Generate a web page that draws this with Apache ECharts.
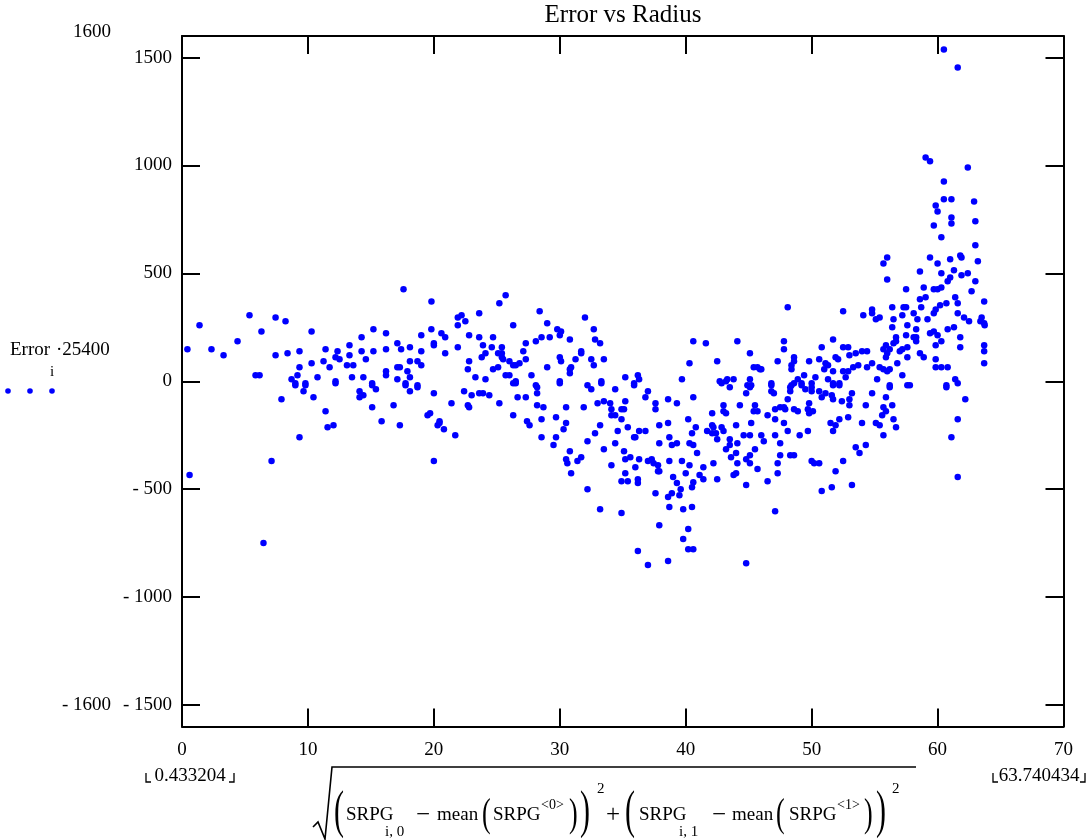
<!DOCTYPE html>
<html>
<head>
<meta charset="utf-8">
<script src="https://cdn.jsdelivr.net/npm/echarts@6/dist/echarts.min.js"></script>
<style>
  html, body { margin: 0; padding: 0; background: #ffffff; }
  #chart { width: 1089px; height: 840px; }
</style>
</head>
<body>
<div id="chart"></div>
<script>
// Axis settings and labels
const chartTitle = 'Error vs Radius';
const xRange = [0, 70];
const xTicks = [0, 10, 20, 30, 40, 50, 60, 70];
const yRange = [-1600, 1600];
const yTicks = [-1500, -1000, -500, 0, 500, 1000, 1500];
const xDataLimits = ['0.433204', '63.740434'];

// Scatter points: [radius, Error_i * 25400], grouped by radius span
const r00to13 = [
  [0.43,148],[1.39,259],[2.34,148],[3.30,120],[4.41,185],[5.36,306],[6.31,231],[5.84,28],[6.16,28],
  [7.43,296],[8.22,278],[7.43,120],[8.38,130],[9.33,139],[10.29,231],[11.4,148],[12.35,139],[12.19,111],
  [12.51,102],[11.24,93],[10.29,83],[9.33,65],[11.72,65],[9.17,28],[8.70,9],[9.0,-9],[9.0,-19],[9.8,-9],
  [9.8,-19],[9.65,-46],[10.76,19],[12.19,0],[12.19,-9],[7.9,-83],[10.44,-74],[11.4,-139],[11.56,-213],
  [12.03,-204],[9.33,-259],[7.11,-370],[0.6,-435],[6.47,-750]
];
const r13to26 = [
  [17.59,426],[19.81,370],[25.7,398],[25.2,361],[23.6,315],[21.9,296],[22.2,306],[22.5,278],[21.9,259],
  [26.3,259],[15.2,241],[16.2,222],[19.8,241],[20.6,222],[20.9,204],[22.8,213],[23.6,204],[24.7,204],
  [14.26,204],[13.3,167],[17.1,176],[19.0,213],[20.0,176],[20.0,167],[21.9,157],[23.9,167],[24.6,157],
  [25.4,157],[17.4,148],[18.1,157],[16.2,148],[15.2,139],[14.26,139],[13.3,120],[19.0,139],[20.9,130],
  [24.1,130],[25.1,130],[25.4,130],[23.8,111],[25.4,111],[25.5,102],[26.0,93],[14.6,102],[18.1,93],
  [18.7,93],[22.8,93],[13.1,74],[13.6,74],[19.0,74],[17.1,65],[17.3,65],[17.9,46],[16.2,46],[16.2,28],
  [22.7,56],[24.7,56],[25.1,65],[26.3,74],[13.5,19],[14.4,19],[17.1,9],[18.1,19],[23.3,19],[24.1,9],
  [25.7,28],[26.0,28],[15.1,-9],[15.1,-19],[15.4,-37],[14.1,-46],[14.1,-74],[14.4,-65],[17.75,-9],
  [17.75,-19],[18.7,-19],[18.7,-28],[18.1,-46],[20.0,-56],[22.4,-46],[23.0,-65],[23.6,-56],[23.9,-56],
  [24.4,-65],[26.3,-9],[15.1,-120],[16.8,-111],[21.4,-102],[22.7,-111],[22.8,-120],[25.2,-102],
  [26.3,-157],[15.85,-185],[17.3,-204],[19.5,-157],[19.7,-148],[20.45,-185],[20.45,-194],[20.3,-204],
  [20.8,-222],[21.7,-250],[20.0,-370]
];
const r26to39 = [
  [28.4,324],[32.0,296],[29.0,269],[29.8,241],[30.1,231],[32.7,241],[30.0,213],[28.55,204],[29.2,204],
  [28.1,185],[30.8,194],[32.8,194],[33.2,176],[27.3,176],[27.1,139],[31.7,139],[31.7,130],[30.0,111],
  [30.1,93],[27.3,102],[31.25,102],[32.5,102],[33.5,102],[26.5,74],[26.8,83],[29.0,65],[30.9,65],
  [30.8,56],[30.8,37],[32.7,74],[27.75,28],[26.5,0],[26.5,-9],[28.1,-19],[28.2,-28],[28.2,-56],[30.0,0],
  [30.0,-9],[32.2,-19],[32.5,-37],[33.3,0],[33.3,-9],[35.2,19],[36.2,28],[36.3,9],[35.9,-9],[35.9,-19],
  [34.4,-37],[37.0,-46],[36.8,-74],[26.65,-74],[27.3,-74],[28.2,-111],[28.7,-120],[30.5,-120],
  [31.9,-120],[33.0,-102],[33.5,-93],[34.0,-102],[35.2,-93],[34.1,-130],[34.1,-157],[34.4,-157],
  [34.9,-130],[35.1,-130],[34.9,-176],[37.6,-102],[37.6,-130],[38.6,-83],[39.3,-102],[27.4,-185],
  [27.6,-204],[28.55,-176],[29.7,-167],[30.5,-194],[30.3,-222],[28.55,-259],[29.7,-259],[29.5,-296],
  [33.2,-204],[32.8,-241],[32.2,-278],[33.5,-315],[30.8,-324],[30.5,-361],[30.6,-380],[31.4,-370],
  [31.7,-352],[30.9,-426],[32.2,-500],[33.2,-593],[34.6,-231],[35.4,-213],[34.4,-287],[35.1,-324],
  [35.9,-259],[36.0,-259],[36.3,-231],[36.8,-231],[35.2,-361],[35.6,-352],[36.3,-361],[34.1,-389],
  [36.0,-398],[35.2,-426],[34.9,-463],[35.4,-463],[36.2,-454],[36.2,-472],[34.9,-611],[37.9,-204],
  [38.6,-194],[37.9,-287],[38.7,-259],[38.9,-296],[39.3,-287],[37.0,-370],[37.3,-361],[37.45,-380],
  [37.8,-389],[37.8,-417],[37.9,-417],[38.7,-370],[39.0,-444],[37.6,-519],[38.6,-537],[38.9,-519],
  [38.7,-583],[37.9,-667],[36.2,-787],[37.0,-852],[38.6,-833]
];
const r39to52 = [
  [48.1,343],[52.5,324],[40.6,185],[41.6,176],[44.1,185],[47.8,185],[47.8,148],[51.7,194],[50.8,157],
  [45.1,130],[40.3,83],[42.5,93],[47.3,93],[48.6,111],[48.6,93],[49.8,93],[50.6,102],[51.1,83],[51.3,74],
  [51.9,111],[52.1,102],[45.4,65],[45.7,65],[46.0,56],[45.9,56],[48.4,74],[48.4,56],[51.0,56],[51.7,46],
  [49.4,28],[39.7,9],[42.7,0],[42.85,-9],[43.2,0],[43.3,9],[43.5,-28],[43.8,9],[45.1,9],[44.9,-19],
  [45.1,-28],[45.2,-19],[44.8,-56],[46.8,-9],[46.8,-19],[46.8,-46],[47.0,-56],[48.9,9],[48.6,-9],
  [48.4,-19],[48.3,-28],[48.3,-46],[48.1,-83],[49.2,-9],[49.2,-19],[49.5,-37],[50.0,-9],[50.0,-28],
  [50.0,-46],[50.3,19],[51.3,9],[51.7,-9],[51.7,-19],[52.2,-9],[52.2,-19],[50.6,-46],[50.8,-74],
  [51.1,-56],[51.6,-65],[51.7,-83],[52.4,-93],[40.6,-74],[43.0,-111],[43.2,-148],[43.0,-139],[44.3,-111],
  [45.5,-111],[45.4,-139],[45.7,-139],[46.5,-157],[47.1,-130],[47.5,-120],[47.8,-120],[47.9,-130],
  [47.1,-176],[47.8,-194],[48.6,-130],[48.9,-139],[49.7,-130],[49.8,-148],[50.1,-139],[49.8,-102],
  [40.2,-176],[42.1,-148],[40.8,-213],[40.5,-241],[42.1,-204],[42.2,-213],[41.7,-231],[42.1,-241],
  [42.4,-241],[42.5,-269],[42.85,-213],[43.0,-231],[44.0,-204],[45.2,-194],[44.6,-250],[45.1,-250],
  [46.0,-250],[46.2,-278],[47.1,-250],[48.1,-231],[49.05,-250],[49.7,-231],[40.3,-287],[40.6,-296],
  [40.9,-333],[43.5,-269],[43.5,-296],[43.2,-315],[44.1,-287],[44.0,-333],[43.6,-352],[44.1,-380],
  [45.5,-315],[45.1,-343],[44.8,-361],[45.1,-380],[45.7,-407],[47.5,-287],[47.5,-343],[47.3,-380],
  [47.3,-426],[46.5,-463],[48.3,-343],[48.6,-343],[50.0,-370],[50.2,-380],[50.6,-380],[51.9,-417],
  [50.8,-509],[51.6,-491],[47.1,-602],[44.8,-481],[44.8,-843],[42.5,-454],[42.2,-380],[41.4,-398],
  [41.4,-454],[41.1,-435],[43.8,-435],[44.0,-426],[39.7,-370],[40.3,-389],[40.0,-426],[39.3,-472],
  [39.6,-500],[39.5,-528],[40.6,-468],[40.5,-491],[39.8,-593],[40.5,-583],[40.2,-685],[39.8,-731],
  [40.2,-778],[40.6,-778],[51.5,-194],[51.9,-204],[51.7,-231],[52.2,-176]
];
const r52to64 = [
  [60.5,1537],[61.6,1454],[59.05,1037],[59.4,1019],[62.4,991],[60.5,926],[60.5,843],[61.1,843],
  [62.9,833],[59.85,815],[60.0,787],[61.1,759],[61.1,731],[63.0,741],[59.7,722],[60.3,667],[63.0,630],
  [56.0,574],[55.7,546],[59.4,574],[60.0,546],[61.0,565],[61.8,583],[61.9,574],[63.2,556],
  [58.6,509],[60.3,500],[61.3,514],[61.0,481],[60.8,463],[61.9,491],[62.4,500],[63.0,463],[56.0,472],
  [57.5,426],[58.9,435],[59.7,426],[60.0,426],[60.3,435],[62.7,417],[61.4,389],[61.6,361],[58.6,380],
  [59.05,389],[58.7,343],[60.2,352],[60.7,361],[59.85,333],[59.7,315],[63.7,370],[61.6,315],[62.1,296],
  [62.5,278],[63.4,278],[63.5,296],[63.7,269],[63.74,259],[63.7,167],[63.7,139],[63.7,83],[61.8,204],
  [61.8,157],[61.3,250],[60.8,241],[59.2,287],[58.4,287],[57.3,343],[57.5,343],[58.1,315],[57.2,306],
  [56.4,343],[56.5,287],[56.4,250],[57.6,259],[58.3,241],[58.3,204],[58.1,204],[58.3,185],[57.5,213],
  [56.7,204],[59.4,222],[59.7,231],[60.0,213],[60.3,185],[59.85,167],[59.85,102],[59.85,65],[60.3,65],
  [60.8,65],[61.4,9],[61.6,-9],[60.7,-19],[60.7,-28],[62.2,-83],[61.6,-176],[61.1,-259],[61.6,-444],
  [58.6,130],[58.9,111],[57.6,157],[57.6,111],[56.8,83],[57.2,28],[57.6,-19],[57.8,-19],[56.2,-19],
  [56.2,-28],[55.9,167],[55.7,148],[56.2,148],[56.0,130],[55.9,111],[56.5,176],[56.7,185],[57.0,139],
  [57.2,148],[55.4,65],[55.7,56],[56.2,56],[56.0,46],[55.2,9],[54.4,65],[54.8,83],[54.4,139],[54.0,139],
  [53.5,130],[53.0,120],[52.9,157],[52.5,157],[53.3,65],[53.7,74],[52.5,46],[52.9,46],[52.7,19],
  [54.1,306],[54.8,333],[54.8,315],[55.1,287],[55.4,296],[54.8,-56],[55.9,-74],[55.7,-120],[55.9,-139],
  [55.6,-157],[56.4,-111],[56.5,-176],[56.7,-213],[55.1,-194],[55.4,-204],[55.7,-250],[54.3,-111],
  [53.0,-83],[53.0,-111],[53.2,-56],[52.9,-167],[54.0,-194],[53.5,-306],[53.8,-333],[54.3,-296],
  [52.5,-370],[53.2,-481]
];

const points = [].concat(r00to13, r13to26, r26to39, r39to52, r52to64);

const FONT = '"Liberation Serif", "Times New Roman", serif';
const BLACK = '#000000';
const BLUE = '#0000ff';

const chart = echarts.init(document.getElementById('chart'), null, { renderer: 'canvas' });

const frameLine = { show: true, onZero: false, lineStyle: { color: BLACK, width: 2 } };
const innerTick = { show: true, inside: true, length: 18, lineStyle: { color: BLACK, width: 2 } };
const yLabelText = v => (v < 0 ? '- ' + Math.abs(v) : String(v));

// Plain text helper for the free-standing annotations
function txt(x, y, s, size, align, extra) {
  return Object.assign({
    type: 'text', x: x, y: y, silent: true,
    style: { text: s, fontFamily: FONT, fontSize: size, fill: BLACK, textAlign: align || 'left', verticalAlign: 'middle' }
  }, extra || {});
}
// Tall parenthesis: a glyph stretched vertically about its middle
function paren(x, y, s, size, sy) {
  return txt(x, y, s, size, 'left', { scaleY: sy });
}

// Radius expression written under the x axis
const formula = [
  { type: 'polyline', silent: true, shape: { points: [[313, 827], [318, 822], [325, 839], [332, 767], [916, 767]] },
    style: { stroke: BLACK, lineWidth: 1.6, fill: null } },
  paren(334, 813, '(', 30, 1.75),
  txt(346, 815, 'SRPG', 19),
  txt(385, 832, 'i, 0', 15),
  txt(416, 815, '\u2212', 25),
  txt(437, 815, 'mean', 19),
  paren(482, 815, '(', 26, 1.55),
  txt(493, 815, 'SRPG', 19),
  txt(541, 805, '<0>', 14),
  paren(569, 815, ')', 26, 1.55),
  paren(580, 813, ')', 30, 1.75),
  txt(597, 789, '2', 15),
  txt(606, 815, '+', 25),
  paren(625, 813, '(', 30, 1.75),
  txt(639, 815, 'SRPG', 19),
  txt(679, 832, 'i, 1', 15),
  txt(712, 815, '\u2212', 25),
  txt(732, 815, 'mean', 19),
  paren(776, 815, '(', 26, 1.55),
  txt(789, 815, 'SRPG', 19),
  txt(837, 805, '<1>', 14),
  paren(864, 815, ')', 26, 1.55),
  paren(876, 813, ')', 30, 1.75),
  txt(892, 789, '2', 15)
];

// Data limits of the radius, in corner brackets
function cornerLabel(cx, text, halfW) {
  return [
    txt(cx, 776, text, 19, 'center'),
    { type: 'polyline', silent: true, shape: { points: [[cx - halfW, 773], [cx - halfW, 782], [cx - halfW + 5, 782]] }, style: { stroke: BLACK, lineWidth: 1.3, fill: null } },
    { type: 'polyline', silent: true, shape: { points: [[cx + halfW - 5, 782], [cx + halfW, 782], [cx + halfW, 773]] }, style: { stroke: BLACK, lineWidth: 1.3, fill: null } }
  ];
}

// Y limits and the trace name with its marker, left of the plot
const leftNotes = [
  txt(111, 32, String(yRange[1]), 19, 'right'),
  txt(111, 705, yLabelText(yRange[0]), 19, 'right'),
  txt(10, 350, 'Error', 19),
  txt(50, 372, 'i', 15),
  txt(56, 350, '\u00b725400', 19),
  { type: 'circle', silent: true, shape: { cx: 8, cy: 391, r: 2.8 }, style: { fill: BLUE } },
  { type: 'circle', silent: true, shape: { cx: 30, cy: 391, r: 2.8 }, style: { fill: BLUE } },
  { type: 'circle', silent: true, shape: { cx: 52, cy: 391, r: 2.8 }, style: { fill: BLUE } }
];

const option = {
  animation: false,
  backgroundColor: '#ffffff',
  grid: { left: 182, top: 36, width: 881.5, height: 690.5, containLabel: false },
  xAxis: [
    {
      type: 'value', min: xRange[0], max: xRange[1], interval: 10, position: 'bottom',
      axisLine: frameLine, axisTick: innerTick, splitLine: { show: false },
      axisLabel: { color: BLACK, fontFamily: FONT, fontSize: 19, margin: 14, customValues: xTicks }
    },
    {
      type: 'value', min: xRange[0], max: xRange[1], interval: 10, position: 'top',
      axisLine: frameLine, axisTick: innerTick, splitLine: { show: false },
      axisLabel: { show: false }
    }
  ],
  yAxis: [
    {
      type: 'value', min: yRange[0], max: yRange[1], position: 'left',
      axisLine: frameLine,
      axisTick: Object.assign({}, innerTick, { customValues: yTicks }),
      splitLine: { show: false },
      axisLabel: { color: BLACK, fontFamily: FONT, fontSize: 19, margin: 10,
        customValues: yTicks, formatter: yLabelText }
    },
    {
      type: 'value', min: yRange[0], max: yRange[1], position: 'right',
      axisLine: frameLine,
      axisTick: Object.assign({}, innerTick, { customValues: yTicks }),
      splitLine: { show: false },
      axisLabel: { show: false }
    }
  ],
  series: [
    {
      type: 'scatter', xAxisIndex: 0, yAxisIndex: 0,
      data: points, symbol: 'circle', symbolSize: 6.5,
      itemStyle: { color: BLUE, opacity: 1 },
      emphasis: { disabled: true }, silent: true
    }
  ],
  graphic: [].concat(
    [txt(623, 15, chartTitle, 25, 'center')],
    leftNotes,
    cornerLabel(190, xDataLimits[0], 44),
    cornerLabel(1039, xDataLimits[1], 46),
    formula
  )
};

chart.setOption(option);
</script>
</body>
</html>
